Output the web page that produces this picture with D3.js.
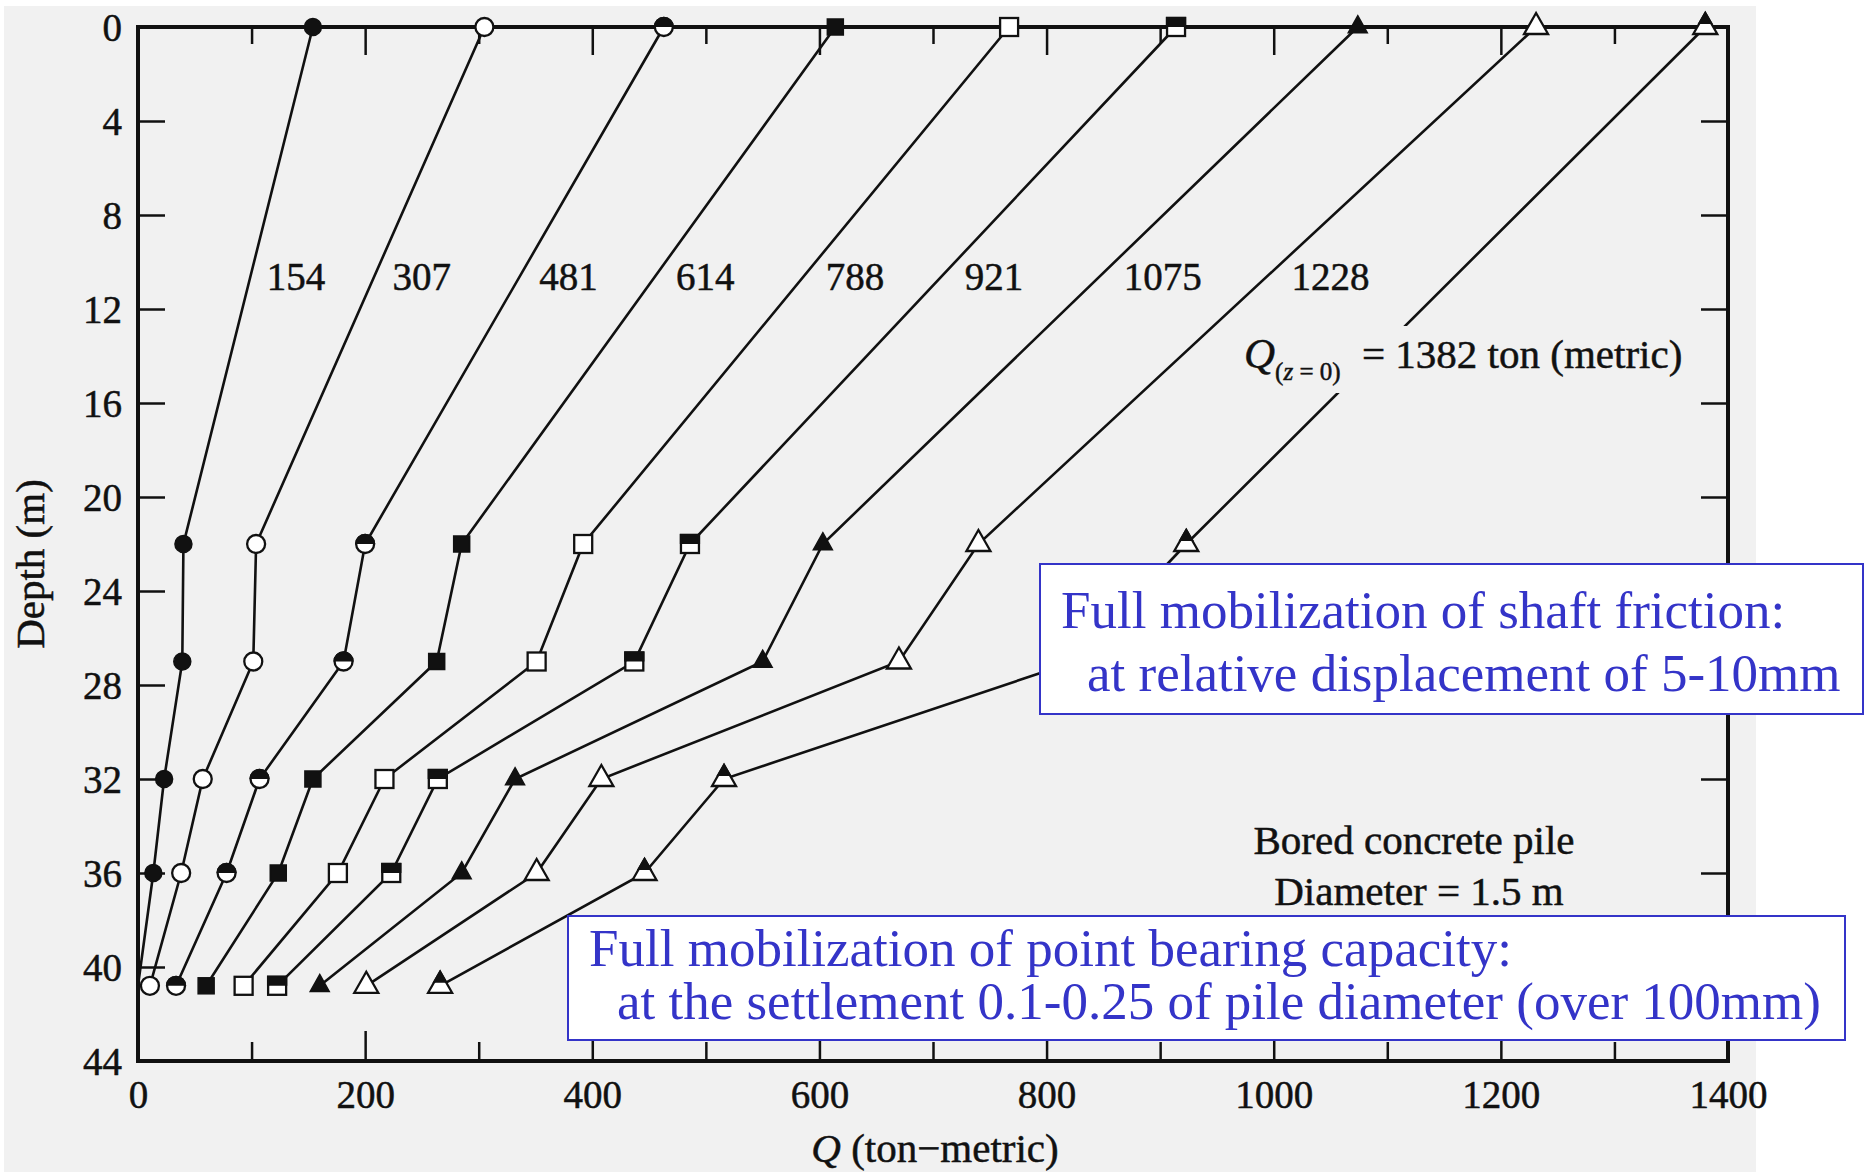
<!DOCTYPE html>
<html>
<head>
<meta charset="utf-8">
<script src="https://cdn.jsdelivr.net/npm/d3@7.9.0/dist/d3.min.js"></script>
<style>
  body { margin: 0; background: #fff; }
  svg { display: block; }
  text { font-family: "Liberation Serif", "Times New Roman", serif; }
  .ink { stroke: #111; stroke-width: 0.5px; }
</style>
</head>
<body>
<svg id="chart" width="1867" height="1172"></svg>
<script>
// depth of the measuring points (m)
const depths = [0, 22, 27, 32, 36, 40.8];

// load at top of pile for each test (curve labels)
const topLoads = [154, 307, 481, 614, 788, 921, 1075, 1228, 1382];

// Q (ton-metric) along depth for each curve
const q154  = [154, 40, 39, 23, 13.5, 0];
const q307  = [305, 104, 101.5, 57, 38, 10.5];
const q481  = [463, 200, 181, 107, 78, 33.5];
const q614  = [614, 285, 263, 154, 123.5, 60];
const q788  = [767, 392, 351, 217, 176, 93];
const q921  = [914, 486, 437, 264, 223, 122.5];
const q1075 = [1074, 603, 550, 332, 285, 160];
const q1228 = [1231, 740, 670, 408, 351, 201];
const q1382 = [1380, 923, 825, 516, 446, 266];

const xTicks = d3.range(0, 1401, 100);
const yTicks = d3.range(0, 45, 4);

const curves = [q154, q307, q481, q614, q788, q921, q1075, q1228, q1382];

// marker style per curve
const markerShape = ['circle', 'circle', 'circle', 'square', 'square', 'square', 'triangle', 'triangle', 'triangle'];
const markerFill = ['solid', 'open', 'half', 'solid', 'open', 'half', 'solid', 'open', 'half'];

const paper = '#f1f1f1';
const blue = '#3434c8';

const svg = d3.select('#chart');

svg.append('rect').attr('x', 4).attr('y', 6).attr('width', 1752).attr('height', 1166).attr('fill', paper);

const x = d3.scaleLinear().domain([0, 1400]).range([138, 1728]);
const y = d3.scaleLinear().domain([0, 44]).range([27, 1061]);

const defs = svg.append('defs');
defs.append('clipPath').attr('id', 'topHalf')
  .append('rect').attr('x', -20).attr('y', -20).attr('width', 40).attr('height', 20);
defs.append('clipPath').attr('id', 'topHalfTri')
  .append('rect').attr('x', -20).attr('y', -20).attr('width', 40).attr('height', 17);

// axes (ticks pointing inside)
const isMajor = (d) => d % 200 === 0;

let axLeft = svg.append('g').attr('transform', `translate(${x(0)},0)`)
  .call(d3.axisLeft(y).tickValues(yTicks).tickSize(-27).tickPadding(16));
let axRight = svg.append('g').attr('transform', `translate(${x(1400)},0)`)
  .call(d3.axisRight(y).tickValues(yTicks.slice(1, -1)).tickSize(-27).tickFormat(''));
let axBottom = svg.append('g').attr('transform', `translate(0,${y(44)})`)
  .call(d3.axisBottom(x).tickValues(xTicks).tickSize(-19).tickPadding(19)
    .tickFormat((d) => isMajor(d) ? d : ''));
let axTop = svg.append('g').attr('transform', `translate(0,${y(0)})`)
  .call(d3.axisTop(x).tickValues(xTicks).tickSize(-17).tickFormat(''));

axBottom.selectAll('.tick line').attr('y2', (d) => isMajor(d) ? -30 : -19);
axTop.selectAll('.tick line').attr('y2', (d) => isMajor(d) ? 28 : 17);

[axLeft, axRight, axBottom, axTop].forEach((ax) => {
  ax.select('.domain').remove();
  ax.selectAll('.tick line').attr('stroke', '#111').attr('stroke-width', 2.5);
  ax.selectAll('text').attr('fill', '#111').attr('class', 'ink').style('font-size', '39px')
    .style('font-family', '"Liberation Serif", serif');
});
axLeft.selectAll('text').attr('dy', '0.34em');

// frame
svg.append('rect')
  .attr('x', x(0)).attr('y', y(0))
  .attr('width', x(1400) - x(0)).attr('height', y(44) - y(0))
  .attr('fill', 'none').attr('stroke', '#111').attr('stroke-width', 4);

// load curves
const line = d3.line().x((d) => x(d[0])).y((d) => y(d[1]));

curves.forEach((qs, i) => {
  svg.append('path')
    .attr('d', line(qs.map((q, k) => [q, depths[k]])))
    .attr('fill', 'none').attr('stroke', '#111').attr('stroke-width', 2.6);
});

// gap in the last curve where its label sits
svg.append('rect').attr('x', 1236).attr('y', 326).attr('width', 464).attr('height', 67).attr('fill', paper);

function addMarker(g, shape, fill) {
  const solid = fill === 'solid';
  let outline;
  if (shape === 'circle') {
    outline = g.append('circle').attr('r', solid ? 8.5 : 9);
  } else if (shape === 'square') {
    const s = solid ? 16 : 18;
    outline = g.append('rect').attr('x', -s / 2).attr('y', -s / 2).attr('width', s).attr('height', s);
  } else {
    const w = solid ? 19 : 24, h = solid ? 17 : 21;
    outline = g.append('path').attr('d', `M0,${-2 * h / 3}L${w / 2},${h / 3}L${-w / 2},${h / 3}Z`);
  }
  outline.attr('fill', solid ? '#111' : '#fff').attr('stroke', '#111')
    .attr('stroke-width', solid ? 1.5 : 2.3).attr('stroke-linejoin', 'miter');
  if (fill === 'half') {
    g.append(() => outline.node().cloneNode())
      .attr('fill', '#111')
      .attr('clip-path', shape === 'triangle' ? 'url(#topHalfTri)' : 'url(#topHalf)');
  }
}

curves.forEach((qs, i) => {
  qs.forEach((q, k) => {
    if (q === 0) return; // curve ends on the axis, no marker drawn there
    let g = svg.append('g').attr('transform', `translate(${x(q)},${y(depths[k])})`);
    addMarker(g, markerShape[i], markerFill[i]);
  });
});

// curve labels, placed just right of each line
const labelDepth = 10.2;
curves.slice(0, 8).forEach((qs, i) => {
  let qAt = qs[0] + (qs[1] - qs[0]) * labelDepth / depths[1];
  svg.append('text').attr('class', 'ink')
    .attr('x', x(qAt) + 14).attr('y', y(11.2))
    .style('font-size', '39px').attr('fill', '#111')
    .text(topLoads[i]);
});

let qLabel = svg.append('text').attr('class', 'ink').attr('x', 1244).attr('y', 368)
  .attr('fill', '#111').style('font-size', '41px');
qLabel.append('tspan').style('font-style', 'italic').style('font-size', '43px').text('Q');
qLabel.append('tspan').attr('dy', 12).style('font-size', '25px').text('(');
qLabel.append('tspan').style('font-size', '25px').style('font-style', 'italic').text('z');
qLabel.append('tspan').style('font-size', '25px').text(' = 0)');
qLabel.append('tspan').attr('x', 1362).attr('dy', -12).text(`= ${topLoads[8]} ton (metric)`);

svg.append('text').attr('class', 'ink').attr('x', 1414).attr('y', 854).attr('text-anchor', 'middle')
  .attr('fill', '#111').style('font-size', '41px').text('Bored concrete pile');
svg.append('text').attr('class', 'ink').attr('x', 1419).attr('y', 905).attr('text-anchor', 'middle')
  .attr('fill', '#111').style('font-size', '41px').text('Diameter = 1.5 m');

// axis titles
svg.append('text').attr('class', 'ink')
  .attr('transform', `translate(44,${(y(0) + y(44)) / 2 + 20}) rotate(-90)`)
  .attr('text-anchor', 'middle').attr('fill', '#111').style('font-size', '41px')
  .text('Depth (m)');

let xTitle = svg.append('text').attr('class', 'ink').attr('x', (x(0) + x(1400)) / 2 + 2).attr('y', 1162)
  .attr('text-anchor', 'middle').attr('fill', '#111').style('font-size', '41px');
xTitle.append('tspan').style('font-style', 'italic').text('Q');
xTitle.append('tspan').text(' (ton\u2212metric)');

// blue note boxes
function noteBox(bx, by, bw, bh, lines) {
  svg.append('rect').attr('x', bx).attr('y', by).attr('width', bw).attr('height', bh)
    .attr('fill', '#fff').attr('stroke', blue).attr('stroke-width', 2);
  lines.forEach((l) => {
    svg.append('text').attr('x', l[0]).attr('y', l[1]).attr('fill', blue)
      .style('font-size', '53px').style('font-family', '"Liberation Serif", "Times New Roman", serif')
      .text(l[2]);
  });
}

noteBox(1040, 564, 823, 150, [
  [1061, 628, 'Full mobilization of shaft friction:'],
  [1087, 691, 'at relative displacement of 5-10mm']
]);
noteBox(568, 916, 1277, 124, [
  [589, 966, 'Full mobilization of point bearing capacity:'],
  [617, 1019, 'at the settlement 0.1-0.25 of pile diameter (over 100mm)']
]);
</script>
</body>
</html>
